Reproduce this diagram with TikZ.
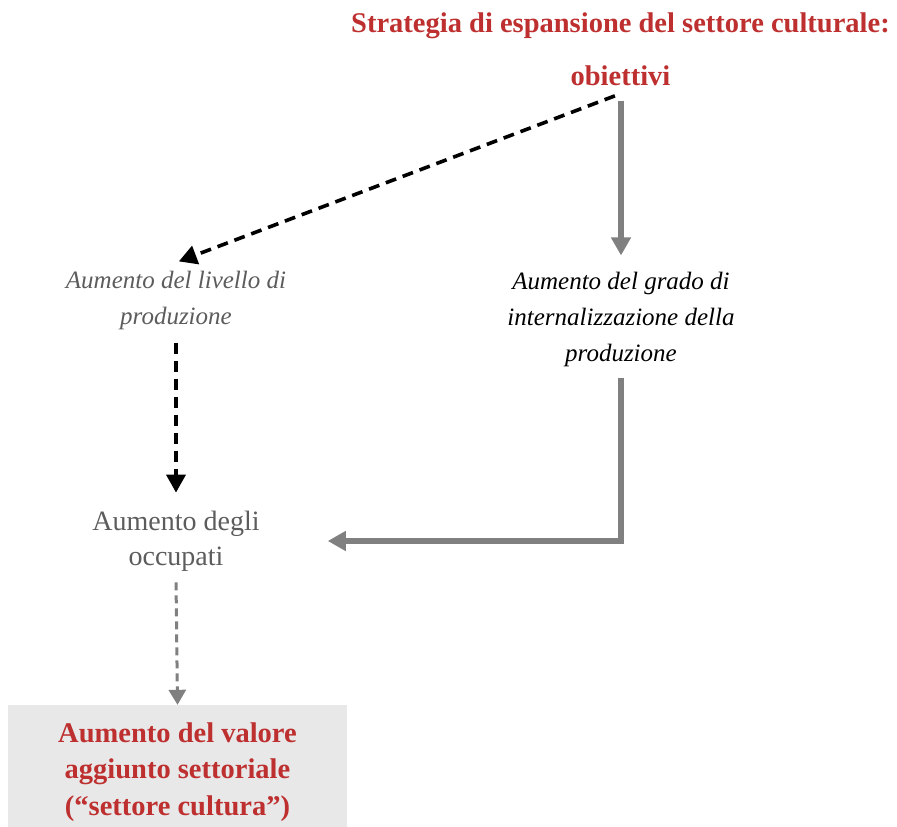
\documentclass[tikz,border=0pt]{standalone}
\usepackage{fontspec}
\setmainfont{Liberation Serif}
\usetikzlibrary{arrows.meta, positioning}
\definecolor{rosso}{RGB}{190,48,48}
\definecolor{grigiotesto}{RGB}{92,92,92}
\definecolor{grigiofreccia}{RGB}{128,128,128}
\definecolor{grigiobox}{RGB}{232,232,232}
\tikzset{
    titolo/.style={align=center, text=rosso, font=\fontsize{28.5}{36}\selectfont\bfseries, inner sep=8pt},
    corsivo/.style={align=center, font=\fontsize{25}{36}\selectfont\itshape, inner sep=8pt},
    normale/.style={align=center, text=grigiotesto, font=\fontsize{28}{35}\selectfont, inner sep=8pt},
    esito/.style={align=center, text=rosso, fill=grigiobox, font=\fontsize{28.5}{36.5}\selectfont\bfseries,
        minimum width=339pt, minimum height=134pt, inner sep=0pt},
    frecciapiena/.style={grigiofreccia, line width=6pt, -{Triangle[length=18pt, width=19pt]}},
    frecciatratto/.style={black, line width=3.6pt, dash pattern=on 11pt off 7pt, -{Triangle[length=18pt, width=19pt]}},
    frecciagrigia/.style={grigiofreccia, line width=3pt, dash pattern=on 8pt off 5pt, -{Triangle[length=15pt, width=17pt]}}
}
\begin{document}
\begin{tikzpicture}[x=1pt, y=-1pt]
    \useasboundingbox (0,0) rectangle (897,827);
    % Titolo
    \node[titolo] (strategia) at (620.5,49) {Strategia di espansione del settore culturale:\\[17pt] obiettivi};
    % Obiettivi
    \node[corsivo, text=grigiotesto] (livello) at (176,300) {Aumento del livello di\\ produzione};
    \node[corsivo, text=black] (grado) at (621,319) {Aumento del grado di\\ internalizzazione della\\ produzione};
    \node[normale] (occupati) at (176,541) {Aumento degli\\ occupati};
    \node[esito] (valore) at (177.5,772) {Aumento del valore\\ aggiunto settoriale\\ (“settore cultura”)};
    % Frecce
    \draw[frecciatratto, shorten <=6pt, shorten >=3pt] (strategia.south) -- (livello.north);
    \draw[frecciapiena, shorten <=7pt, shorten >=8pt] (strategia.south -| grado.north) -- (grado.north);
    \draw[frecciatratto, shorten <=5pt, shorten >=10pt] (livello.south) -- (occupati.north);
    \draw[frecciapiena, shorten <=3pt, shorten >=60pt] (grado.south) |- (occupati.east);
    \draw[frecciagrigia, shorten <=3pt] (occupati.south) -- (valore.north);
\end{tikzpicture}
\end{document}
